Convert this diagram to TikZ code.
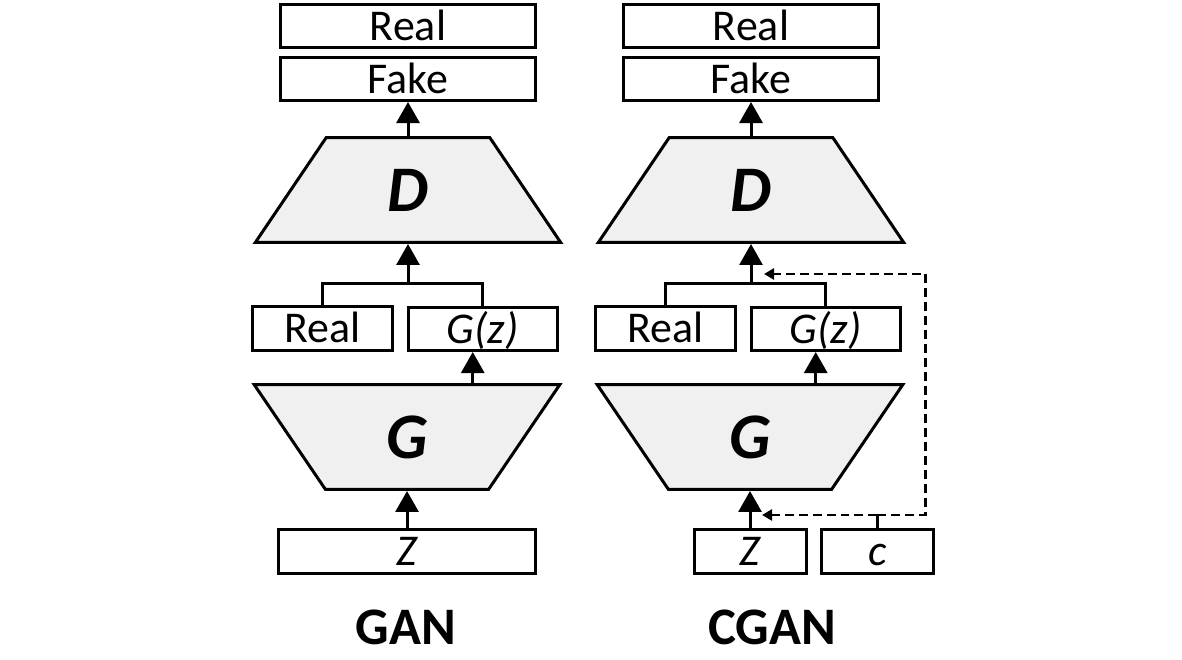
\documentclass[tikz,border=0pt]{standalone}
\usepackage{fontspec}
\setmainfont{Carlito}
\usetikzlibrary{arrows.meta,positioning,shapes.geometric,calc}
\definecolor{Shade}{HTML}{F0F0F0}
\tikzset{
  box/.style={draw, line width=0.06cm, minimum width=5.1cm, minimum height=0.86cm,
              inner sep=0pt, text height=0.56cm, text depth=0cm,
              font=\fontsize{25}{25}\selectfont},
  trap/.style={trapezium, draw, fill=Shade, line width=0.06cm, trapezium stretches=true,
               minimum width=6.13cm, minimum height=2.1cm,
               font=\fontsize{37}{37}\selectfont\bfseries\itshape},
  trapD/.style={trap, trapezium left angle=67, trapezium right angle=67},
  trapG/.style={trap, trapezium left angle=113, trapezium right angle=113},
  arrow/.style={-{Triangle[width=0.46cm,length=0.42cm]}, line width=0.06cm},
  link/.style={line width=0.06cm},
  dasharrow/.style={-{Triangle[width=0.22cm,length=0.2cm]}, line width=0.055cm,
                    dash pattern=on 0.18cm off 0.1cm},
  title/.style={font=\fontsize{30}{30}\selectfont\bfseries},
}
\begin{document}
\begin{tikzpicture}[x=0.02cm, y=-0.02cm]
  \useasboundingbox (0,0) rectangle (1182,659);
  % GAN
  \node[trapD] (dA) at (408,190) {D};
  \node[box, above=0.68cm of dA] (fakeA) {Fake};
  \node[box, above=0.14cm of fakeA] (realA) {Real};
  \node[trapG] (gA) at (407,437) {G};
  \node[box, minimum width=2.8cm, minimum height=0.88cm, above right=0.62cm and 0cm of gA.top left corner] (realB) {Real};
  \node[box, minimum width=2.98cm, minimum height=0.86cm, above left=0.62cm and 0.08cm of gA.top right corner] (gzA) {\itshape G(z)};
  \node[box, minimum width=5.14cm, minimum height=0.88cm, below=0.74cm of gA] (zA) {\itshape Z};
  \node[title] (ganlbl) at (406,627) {GAN};
  \draw[arrow] (dA.north) -- (fakeA.south);
  \draw[link] (realB.north) -- ++(0,-22) coordinate (hA) -| (gzA.north);
  \draw[arrow] (hA -| dA.south) -- (dA.south);
  \draw[arrow] ([xshift=-0.2cm]gzA.south |- gA.north) -- ([xshift=-0.2cm]gzA.south);
  \draw[arrow] (zA.north) -- (gA.south);
  % CGAN
  \node[trapD] (dB) at (751,190) {D};
  \node[box, above=0.68cm of dB] (fakeC) {Fake};
  \node[box, above=0.14cm of fakeC] (realC) {Real};
  \node[trapG] (gB) at (750,437) {G};
  \node[box, minimum width=2.8cm, minimum height=0.88cm, above right=0.62cm and 0cm of gB.top left corner] (realD) {Real};
  \node[box, minimum width=2.98cm, minimum height=0.86cm, above left=0.62cm and 0.08cm of gB.top right corner] (gzB) {\itshape G(z)};
  \node[box, minimum width=2.24cm, minimum height=0.88cm, below=0.74cm of gB] (zB) {\itshape Z};
  \node[box, minimum width=2.26cm, minimum height=0.88cm, right=0.24cm of zB] (cB) {\itshape c};
  \node[title] (cganlbl) at (772,627) {CGAN};
  \draw[arrow] (dB.north) -- (fakeC.south);
  \draw[link] (realD.north) -- ++(0,-22) coordinate (hB) -| (gzB.north);
  \draw[arrow] (hB -| dB.south) -- (dB.south);
  \draw[arrow] ([xshift=-0.2cm]gzB.south |- gB.north) -- ([xshift=-0.2cm]gzB.south);
  \draw[arrow] (zB.north) -- (gB.south);
  \draw[line width=0.055cm] (cB.north) -- ++(0,-13) coordinate (hc);
  \draw[dasharrow] (hc) -- ($(hc -| zB.north)+(12,0)$);
  \draw[dasharrow] (hc) -- ++(48,0) |- ($(dB.south)+(13,30)$);
\end{tikzpicture}
\end{document}
